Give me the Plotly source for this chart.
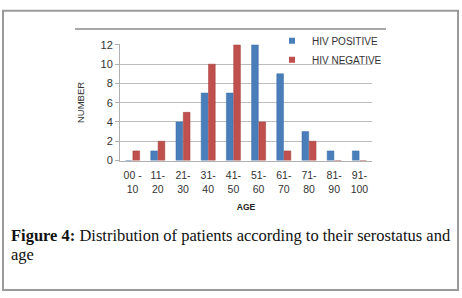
import plotly.graph_objects as go

categories = ["00 -<br>10", "11-<br>20", "21-<br>30", "31-<br>40", "41-<br>50",
              "51-<br>60", "61-<br>70", "71-<br>80", "81-<br>90", "91-<br>100"]
hiv_positive = [0, 1, 4, 7, 7, 12, 9, 3, 1, 1]
hiv_negative = [1, 2, 5, 10, 12, 4, 1, 2, 0, 0]
series_names = ["HIV POSITIVE", "HIV NEGATIVE"]
y_ticks = [0, 2, 4, 6, 8, 10, 12]

W, H = 462, 298
BLUE = "#4a7ebb"
RED = "#c0504d"

fig = go.Figure()
fig.add_trace(go.Bar(name=series_names[0], x=categories, y=hiv_positive, showlegend=False,
                     marker=dict(color=BLUE, line=dict(color="#3a6aa5", width=0.5))))
fig.add_trace(go.Bar(name=series_names[1], x=categories, y=hiv_negative, showlegend=False,
                     marker=dict(color=RED, line=dict(color="#a03c39", width=0.5))))
# legend entries with small square keys (like the original)
for name, col in zip(series_names, [BLUE, RED]):
    fig.add_trace(go.Scatter(name=name, x=[None], y=[None], mode="markers",
                             marker=dict(symbol="square", size=6, color=col)))

def px(x):
    return x / W

def py(y):
    return 1 - y / H

fig.update_layout(
    width=W, height=H,
    margin=dict(l=0, r=0, t=0, b=0),
    paper_bgcolor="white", plot_bgcolor="white",
    barmode="group", bargap=0.42, bargroupgap=0.08,
    font=dict(family="Liberation Sans, Arial, sans-serif", size=10, color="#333333"),
    xaxis=dict(domain=[px(120), px(372)], showgrid=False, ticks="",
               tickfont=dict(size=10.5, color="#333333"), ticklabelstandoff=5,
               title=dict(text="<b>AGE</b>", font=dict(size=8.5, color="#222222"), standoff=10),
               showline=True, linecolor="#b0b0b0", linewidth=1),
    yaxis=dict(domain=[py(161), py(40)], range=[0, 12.05], tickvals=y_ticks,
               showgrid=True, gridcolor="#bdbdbd", gridwidth=1,
               zeroline=False, ticks="outside", ticklen=4, tickcolor="#b0b0b0",
               showline=True, linecolor="#b0b0b0",
               tickfont=dict(size=11, color="#333333"),
               title=dict(text="NUMBER", font=dict(size=9.5, color="#333333"), standoff=14),
               ),
    legend=dict(x=px(272), y=py(21), xanchor="left", yanchor="top",
                bgcolor="rgba(0,0,0,0)", font=dict(size=10, color="#333333"),
                tracegroupgap=0, itemwidth=30),
    showlegend=True,
)

fig.add_shape(type="rect", xref="paper", yref="paper",
              x0=px(3), x1=px(458), y0=py(296), y1=py(5),
              line=dict(color="#9a9a9a", width=2), layer="below")
fig.add_shape(type="line", xref="paper", yref="paper",
              x0=px(75), x1=px(386), y0=py(24), y1=py(24),
              line=dict(color="#a8a8a8", width=2))

fig.add_annotation(xref="paper", yref="paper", x=px(9), y=py(239),
                   xanchor="left", yanchor="middle", showarrow=False,
                   text="<b>Figure 4:</b> Distribution of patients according to their serostatus and",
                   font=dict(family="Liberation Serif, Times New Roman, serif", size=16.5, color="#111111"))
fig.add_annotation(xref="paper", yref="paper", x=px(9), y=py(259),
                   xanchor="left", yanchor="middle", showarrow=False,
                   text="age",
                   font=dict(family="Liberation Serif, Times New Roman, serif", size=16.5, color="#111111"))

fig.write_html("out.html", config={"displayModeBar": False},
               post_script="document.body.style.margin='0px';")
